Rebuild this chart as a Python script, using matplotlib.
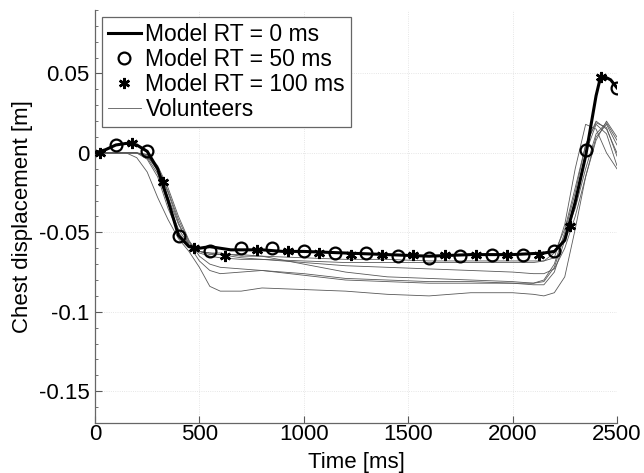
import matplotlib
matplotlib.use("Agg")
import matplotlib.pyplot as plt
from matplotlib.ticker import MultipleLocator

plt.rcParams['font.family'] = ['Liberation Sans', 'DejaVu Sans']
plt.rcParams['axes.unicode_minus'] = False

# model, reaction time 0 ms (thick line)
model_t = [0, 50, 100, 150, 200, 250, 300, 350, 400, 450, 500, 550, 600, 650, 700,
           800, 900, 1000, 1200, 1400, 1600, 1800, 2000, 2150, 2200, 2250, 2300,
           2350, 2400, 2420, 2440, 2470, 2500]
model_y = [0, 0.002, 0.005, 0.006, 0.005, 0.001, -0.010, -0.030, -0.052, -0.059,
           -0.060, -0.059, -0.060, -0.061, -0.061, -0.061, -0.062, -0.062, -0.063,
           -0.064, -0.065, -0.064, -0.064, -0.063, -0.062, -0.055, -0.031, -0.002,
           0.036, 0.047, 0.048, 0.046, 0.041]

# model, reaction time 50 ms (circles)
rt50_t = [100, 250, 400, 550, 700, 850, 1000, 1150, 1300, 1450, 1600, 1750, 1900,
          2050, 2200, 2350, 2500]
rt50_y = [0.005, 0.001, -0.052, -0.062, -0.060, -0.060, -0.062, -0.063, -0.063,
          -0.065, -0.066, -0.065, -0.064, -0.064, -0.062, 0.002, 0.041]

# model, reaction time 100 ms (asterisks)
rt100_t = [25, 175, 325, 475, 625, 775, 925, 1075, 1225, 1375, 1525, 1675, 1825,
           1975, 2125, 2275, 2425]
rt100_y = [0.000, 0.006, -0.018, -0.060, -0.065, -0.061, -0.062, -0.063, -0.064,
           -0.064, -0.064, -0.064, -0.064, -0.064, -0.064, -0.046, 0.048]

# volunteers
vol_t = [0, 150, 200, 250, 300, 350, 400, 450, 500, 550, 600, 700, 800, 1000, 1200,
         1400, 1600, 1800, 2000, 2100, 2150, 2200, 2250, 2300, 2350, 2400, 2450, 2500]
vol_1 = [0, 0, -0.003, -0.012, -0.028, -0.042, -0.054, -0.062, -0.072, -0.084,
         -0.087, -0.087, -0.085, -0.086, -0.087, -0.089, -0.090, -0.088, -0.088,
         -0.089, -0.090, -0.088, -0.078, -0.048, -0.015, 0.010, 0.018, 0.005]
vol_2 = [0, 0, 0, -0.002, -0.010, -0.025, -0.044, -0.058, -0.068, -0.074, -0.076,
         -0.075, -0.074, -0.076, -0.079, -0.080, -0.081, -0.081, -0.082, -0.083,
         -0.083, -0.075, -0.055, -0.030, 0.000, 0.018, 0.012, -0.008]
vol_3 = [0, 0, 0, -0.003, -0.013, -0.032, -0.048, -0.058, -0.062, -0.063, -0.064,
         -0.064, -0.065, -0.070, -0.075, -0.078, -0.079, -0.080, -0.081, -0.082,
         -0.080, -0.070, -0.050, -0.025, 0.005, 0.020, 0.015, 0.000]
vol_4 = [0, 0, 0, -0.001, -0.008, -0.022, -0.040, -0.055, -0.065, -0.070, -0.072,
         -0.073, -0.074, -0.077, -0.080, -0.081, -0.082, -0.082, -0.082, -0.082,
         -0.081, -0.072, -0.052, -0.035, -0.010, 0.012, 0.019, 0.008]
vol_5 = [0, 0, 0, -0.004, -0.015, -0.035, -0.050, -0.059, -0.062, -0.063, -0.063,
         -0.065, -0.065, -0.066, -0.067, -0.067, -0.068, -0.068, -0.068, -0.068,
         -0.068, -0.066, -0.045, -0.010, 0.018, 0.015, 0.000, -0.010]
vol_6 = [0, 0, 0, -0.002, -0.011, -0.028, -0.045, -0.057, -0.063, -0.065, -0.066,
         -0.067, -0.067, -0.068, -0.069, -0.069, -0.069, -0.069, -0.069, -0.069,
         -0.068, -0.063, -0.048, -0.022, 0.005, 0.019, 0.016, -0.002]
vol_7 = [0, 0, 0, -0.001, -0.009, -0.024, -0.042, -0.056, -0.062, -0.064, -0.064,
         -0.066, -0.067, -0.069, -0.071, -0.072, -0.073, -0.074, -0.075, -0.076,
         -0.076, -0.073, -0.060, -0.040, -0.015, 0.008, 0.020, 0.010]
volunteers = [vol_1, vol_2, vol_3, vol_4, vol_5, vol_6, vol_7]

fig = plt.figure(figsize=(6.44, 4.73), dpi=100)
ax = fig.add_axes([0.1475, 0.1057, 0.8105, 0.8733])

ax.plot(model_t, model_y, color='black', lw=2.2, label='Model RT = 0 ms', zorder=4)
ax.plot(rt50_t, rt50_y, ls='none', marker='o', ms=8.5, mfc='none', mec='black',
        mew=1.6, label='Model RT = 50 ms', zorder=5)
ax.plot(rt100_t, rt100_y, ls='none', marker=(6, 2, 0), ms=8, mec='black',
        mew=1.8, label='Model RT = 100 ms', zorder=5)
for i, v in enumerate(volunteers):
    ax.plot(vol_t, v, color='0.35', lw=0.6, label='Volunteers' if i == 0 else None,
            zorder=3)

ax.set_xlim(0, 2500)
ax.set_ylim(-0.17, 0.09)
ax.set_xticks([0, 500, 1000, 1500, 2000, 2500])
ax.set_yticks([-0.15, -0.1, -0.05, 0, 0.05])
ax.set_yticklabels(['-0.15', '-0.1', '-0.05', '0', '0.05'])
ax.yaxis.set_minor_locator(MultipleLocator(0.01))
ax.tick_params(direction='in', length=5, width=0.8, colors='0.35', labelsize=16,
               labelcolor='black', pad=4)
ax.tick_params(axis='x', pad=1)
ax.tick_params(which='minor', direction='in', length=2.5, width=0.6, colors='0.35')
ax.xaxis.set_ticks_position('bottom')
ax.yaxis.set_ticks_position('left')
for side in ['top', 'right']:
    ax.spines[side].set_visible(False)
for side in ['left', 'bottom']:
    ax.spines[side].set_color('0.4')
    ax.spines[side].set_linewidth(0.9)

ax.grid(True, which='major', color='0.87', ls=':', lw=0.6)
ax.set_axisbelow(True)

ax.set_xlabel('Time [ms]', fontsize=16, labelpad=5)
ax.set_ylabel('Chest displacement [m]', fontsize=16, labelpad=4)

leg = ax.legend(loc='upper left', fontsize=16.5, fancybox=False, framealpha=1,
                edgecolor='0.4', handlelength=1.45, handletextpad=0.2,
                labelspacing=0.1, borderpad=0.25, borderaxespad=0.3)
leg.get_frame().set_linewidth(0.9)

fig.savefig('out.png', dpi=100)
